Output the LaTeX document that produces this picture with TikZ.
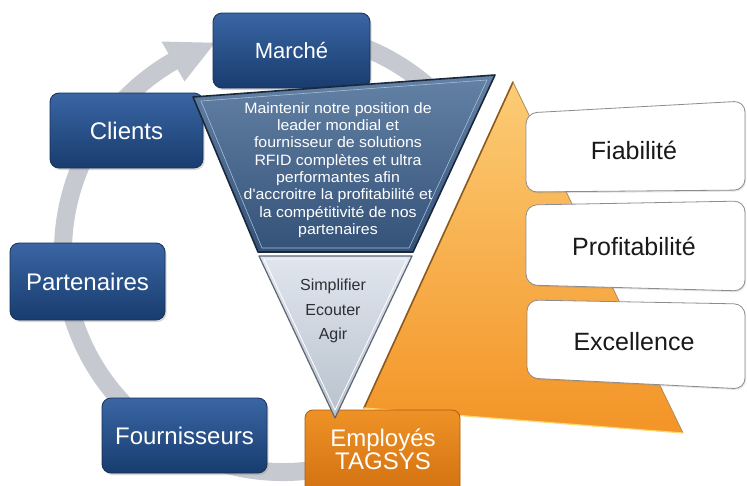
\documentclass[tikz,border=0pt]{standalone}
\usepackage{fontspec}
\setmainfont{Liberation Sans}
\newfontfamily\missionfont[FakeStretch=1.06]{Liberation Sans}
\usetikzlibrary{shadows,calc}

\definecolor{ringgray}{RGB}{198,202,208}
\definecolor{blueTop}{RGB}{58,102,164}
\definecolor{blueBot}{RGB}{24,60,110}
\definecolor{blueEdge}{RGB}{22,48,88}
\definecolor{trapTop}{RGB}{100,130,165}
\definecolor{trapBot}{RGB}{52,82,120}
\definecolor{trapEdge}{RGB}{26,40,60}
\definecolor{trapInner}{RGB}{165,190,215}
\definecolor{funnelTop}{RGB}{224,230,238}
\definecolor{funnelBot}{RGB}{184,193,205}
\definecolor{funnelEdge}{RGB}{92,102,116}
\definecolor{orTop}{RGB}{252,204,118}
\definecolor{orBot}{RGB}{243,148,38}
\definecolor{orEdge}{RGB}{140,88,28}
\definecolor{orBase}{RGB}{255,214,110}
\definecolor{empTop}{RGB}{238,146,38}
\definecolor{empBot}{RGB}{206,108,14}
\definecolor{empEdge}{RGB}{170,90,20}
\definecolor{valueEdge}{RGB}{140,140,140}
\definecolor{darktext}{RGB}{25,25,25}
\definecolor{greytext}{RGB}{45,48,52}

\tikzset{
  ringband/.style={draw=ringgray, line width=18pt},
  stakebox/.style={rounded corners=9pt, draw=blueEdge, line width=0.8pt,
    top color=blueTop, bottom color=blueBot, text=white, inner sep=0pt,
    font=\fontsize{24}{24}\selectfont,
    drop shadow={opacity=0.3, shadow xshift=1.5pt, shadow yshift=-2pt}},
  valuebox/.style={rounded corners=11pt, draw=valueEdge, line width=0.8pt, fill=white,
    drop shadow={opacity=0.2, shadow xshift=1pt, shadow yshift=-1.5pt}},
  valuetext/.style={text=darktext, font=\fontsize{25}{25}\selectfont},
  empbox/.style={rounded corners=8pt, draw=empEdge, line width=0.8pt,
    top color=empTop, bottom color=empBot},
}

\begin{document}
\begin{tikzpicture}[x=1pt, y=-1pt]
\useasboundingbox (0,0) rectangle (747,485);
\fill[white] (0,0) rectangle (747,485);

% circular arrow behind everything
\coordinate (c) at (283,252);
\draw[ringband] ($(c)+(75:220)$) arc[start angle=75, end angle=240.5, radius=220];
\fill[ringgray] ($(c)+(240:197)$) -- ($(c)+(240:243)$) -- ($(c)+(252:220)$) -- cycle;
\draw[ringband] ($(c)+(262:220)$) arc[start angle=262, end angle=320, radius=220];

% orange pyramid
\coordinate (oa) at (513,82);
\coordinate (ob) at (683,433);
\coordinate (oc) at (364,408);
\shade[top color=orTop, bottom color=orBot] (oa) -- (ob) -- (oc) -- cycle;
\draw[orEdge, line width=1.6pt, line cap=round] (oc) -- (oa);
\draw[orEdge!70, line width=0.8pt] (oa) -- (ob);
\draw[orBase, line width=1.2pt] (oc) -- (ob);

% value boxes
\draw[valuebox] (526,113) -- (745,101) -- (745,190) -- (526,192) -- cycle;
\draw[valuebox] (526,205) -- (745,201) -- (745,291) -- (526,285) -- cycle;
\draw[valuebox] (527,300) -- (745,304) -- (745,389) -- (527,378) -- cycle;
\node[valuetext] (fiab) at (634,150) {Fiabilité};
\node[valuetext] (profit) at (634,246) {Profitabilité};
\node[valuetext] (excel) at (634,342) {Excellence};

% stakeholder boxes on the cycle
\node[stakebox, minimum width=157, minimum height=75,
      font=\fontsize{22}{22}\selectfont] (marche) at (291.5,50.5) {Marché};
\node[stakebox, minimum width=153, minimum height=75] (clients) at (126.5,130.5) {Clients};
\node[stakebox, minimum width=155, minimum height=77] (partenaires) at (87.5,281.5) {Partenaires};
\node[stakebox, minimum width=165, minimum height=75] (fournisseurs) at (184.5,435.5) {Fournisseurs};

% employees box
\node[empbox, minimum width=155, minimum height=95] (empbox) at (382.5,457.5) {};
\node[text=white, align=center, font=\fontsize{24}{23}\selectfont] (emp) at (383,449)
  {Employés\\TAGSYS};

% funnel: mission (blue) over values (grey)
\coordinate (t1) at (193,97);
\coordinate (t2) at (495,75);
\coordinate (t3) at (413,252);
\coordinate (t4) at (258,252);
\coordinate (g1) at (259,256);
\coordinate (g2) at (412,256);
\coordinate (g3) at (335,418);
\shade[top color=funnelTop, bottom color=funnelBot] (g1) -- (g2) -- (g3) -- cycle;
\draw[funnelEdge, line width=1.2pt, line join=round] (g1) -- (g2) -- (g3) -- cycle;
\draw[white, line width=0.8pt] (264,259) -- (407,259) -- (335,410) -- cycle;
\shade[top color=trapTop, bottom color=trapBot] (t1) -- (t2) -- (t3) -- (t4) -- cycle;
\draw[trapEdge, line width=1.6pt, line join=round] (t1) -- (t2) -- (t3) -- (t4) -- cycle;
\draw[trapInner, line width=0.6pt, line join=round]
  (201,101) -- (487,80) -- (409,248) -- (262,248) -- cycle;

\node[text=white, align=center, inner sep=0pt,
      font=\missionfont\fontsize{15}{17.3}\selectfont] (mission) at (338,170)
  {Maintenir notre position de\\leader mondial et\\fournisseur de solutions\\RFID complètes et ultra\\performantes afin\\d'accroitre la profitabilité et\\la compétitivité de nos\\partenaires};
\node[text=greytext, align=center, inner sep=0pt,
      font=\fontsize{16}{24.5}\selectfont] (motto) at (333,311)
  {Simplifier\\Ecouter\\Agir};
\end{tikzpicture}
\end{document}
